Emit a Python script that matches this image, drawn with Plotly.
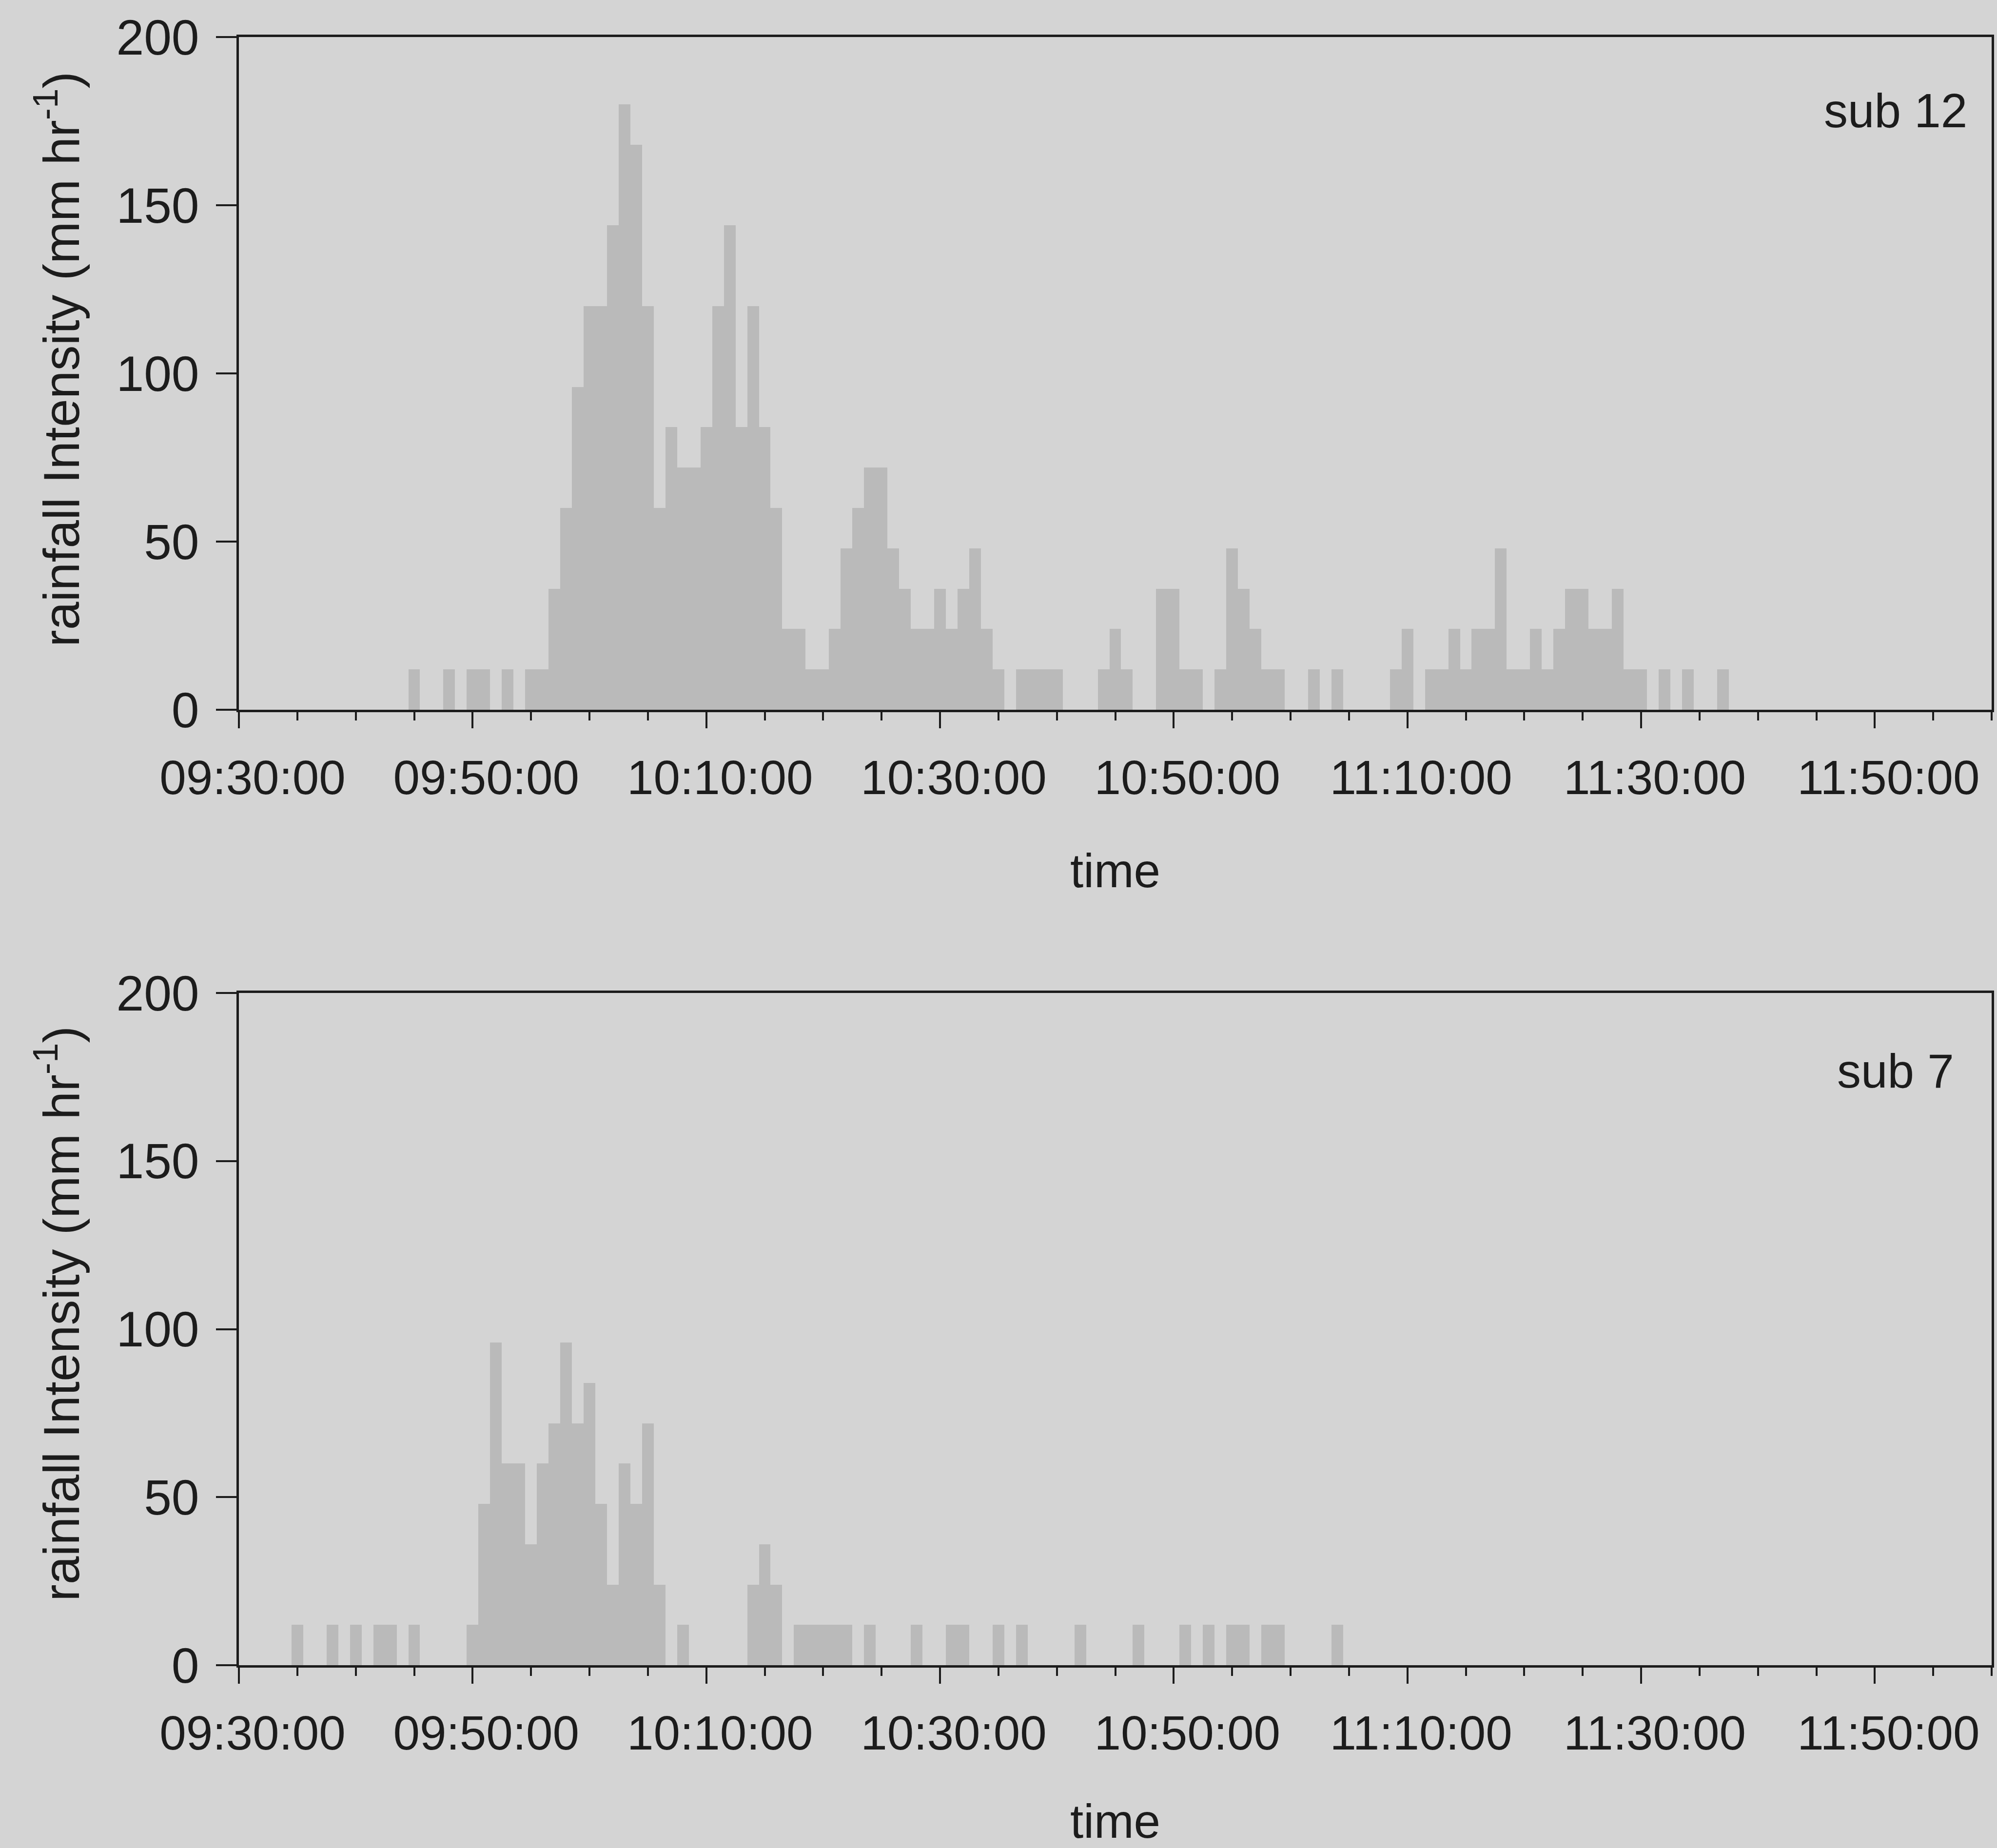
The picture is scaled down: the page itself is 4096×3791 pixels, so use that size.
import plotly.graph_objects as go

# ---------------- data (1-minute bins, non-zero bins only) ----------------
sub12_times = ["09:45", "09:48", "09:50", "09:51", "09:53", "09:55", "09:56", "09:57", "09:58", "09:59",
               "10:00", "10:01", "10:02", "10:03", "10:04", "10:05", "10:06", "10:07", "10:08", "10:09",
               "10:10", "10:11", "10:12", "10:13", "10:14", "10:15", "10:16", "10:17", "10:18", "10:19",
               "10:20", "10:21", "10:22", "10:23", "10:24", "10:25", "10:26", "10:27", "10:28", "10:29",
               "10:30", "10:31", "10:32", "10:33", "10:34", "10:35", "10:37", "10:38", "10:39", "10:40",
               "10:44", "10:45", "10:46", "10:49", "10:50", "10:51", "10:52", "10:54", "10:55", "10:56",
               "10:57", "10:58", "10:59", "11:02", "11:04", "11:09", "11:10", "11:12", "11:13", "11:14",
               "11:15", "11:16", "11:17", "11:18", "11:19", "11:20", "11:21", "11:22", "11:23", "11:24",
               "11:25", "11:26", "11:27", "11:28", "11:29", "11:30", "11:32", "11:34", "11:37"]
sub12_intensity = [12, 12, 12, 12, 12, 12, 12, 36, 60, 96,
                   120, 120, 144, 180, 168, 120, 60, 84, 72, 72,
                   84, 120, 144, 84, 120, 84, 60, 24, 24, 12,
                   12, 24, 48, 60, 72, 72, 48, 36, 24, 24,
                   36, 24, 36, 48, 24, 12, 12, 12, 12, 12,
                   12, 24, 12, 36, 36, 12, 12, 12, 48, 36,
                   24, 12, 12, 12, 12, 12, 24, 12, 12, 24,
                   12, 24, 24, 48, 12, 12, 24, 12, 24, 36,
                   36, 24, 24, 36, 12, 12, 12, 12, 12]

sub7_times = ["09:35", "09:38", "09:40", "09:42", "09:43", "09:45", "09:50", "09:51", "09:52", "09:53",
              "09:54", "09:55", "09:56", "09:57", "09:58", "09:59", "10:00", "10:01", "10:02", "10:03",
              "10:04", "10:05", "10:06", "10:08", "10:14", "10:15", "10:16", "10:18", "10:19", "10:20",
              "10:21", "10:22", "10:24", "10:28", "10:31", "10:32", "10:35", "10:37", "10:42", "10:47",
              "10:51", "10:53", "10:55", "10:56", "10:58", "10:59", "11:04"]
sub7_intensity = [12, 12, 12, 12, 12, 12, 12, 48, 96, 60,
                  60, 36, 60, 72, 96, 72, 84, 48, 24, 60,
                  48, 72, 24, 12, 24, 36, 24, 12, 12, 12,
                  12, 12, 12, 12, 12, 12, 12, 12, 12, 12,
                  12, 12, 12, 12, 12, 12, 12]

panel_labels = ["sub 12", "sub 7"]
y_title = "rainfall Intensity (mm hr<sup>-1</sup>)"
x_title = "time"
major_ticks = ["09:30", "09:50", "10:10", "10:30", "10:50", "11:10", "11:30", "11:50"]
y_ticks = [0, 50, 100, 150, 200]

DAY = "2000-01-01 "


def ts(hm):
    return DAY + hm + ":00"


minor_ticks = []
for h in range(9, 13):
    for mm in range(0, 60, 5):
        t = "%02d:%02d" % (h, mm)
        if "09:30" <= t <= "12:00" and t not in major_ticks:
            minor_ticks.append(t)

# ---------------- style ----------------
BG = "#d4d4d4"
BAR = "#bababa"
INK = "#1c1c1c"
FONT = "Liberation Sans, Arial, sans-serif"
FS = 98
W, H = 4096, 3791

fig = go.Figure()
fig.add_trace(go.Bar(x=[ts(t) for t in sub12_times], y=sub12_intensity, width=60000,
                     marker=dict(color=BAR, line=dict(width=0)), xaxis="x", yaxis="y",
                     showlegend=False))
fig.add_trace(go.Bar(x=[ts(t) for t in sub7_times], y=sub7_intensity, width=60000,
                     marker=dict(color=BAR, line=dict(width=0)), xaxis="x2", yaxis="y2",
                     showlegend=False))

xdom = [490 / W, 4085 / W]
top_dom = [1 - 1456 / H, 1 - 76 / H]
bot_dom = [1 - 3416 / H, 1 - 2037 / H]


def xaxis_cfg(anchor):
    return dict(
        domain=xdom, anchor=anchor, type="date",
        range=[ts("09:30"), ts("12:00")],
        tickmode="array", tickvals=[ts(t) for t in major_ticks],
        ticktext=[t + ":00" for t in major_ticks],
        ticks="outside", ticklen=33, tickwidth=4, tickcolor=INK,
        minor=dict(tickmode="array", tickvals=[ts(t) for t in minor_ticks],
                   ticks="outside", ticklen=17, tickwidth=4, tickcolor=INK, showgrid=False),
        showline=True, linewidth=5, linecolor=INK, mirror=True,
        showgrid=False, zeroline=False, automargin=False,
        tickfont=dict(family=FONT, size=FS, color=INK),
        ticklabelstandoff=17, ticklabelshift=28,
        title=dict(text=x_title, font=dict(family=FONT, size=FS, color=INK), standoff=104),
    )


def yaxis_cfg(anchor, dom):
    return dict(
        domain=dom, anchor=anchor, range=[0, 200],
        tickmode="array", tickvals=y_ticks,
        ticks="outside", ticklen=42, tickwidth=4, tickcolor=INK,
        showline=True, linewidth=5, linecolor=INK, mirror=True,
        showgrid=False, zeroline=False, automargin=False,
        tickfont=dict(family=FONT, size=FS + 4, color=INK), ticklabelstandoff=14,
    )


def label(text, x_px, y_px, angle=0, size=FS):
    return dict(text=text, x=x_px / W, y=1 - y_px / H, xref="paper", yref="paper",
                xanchor="center", yanchor="middle", showarrow=False, textangle=angle,
                font=dict(family=FONT, size=size, color=INK))


fig.update_layout(
    width=W, height=H,
    margin=dict(l=0, r=0, t=0, b=0),
    paper_bgcolor=BG, plot_bgcolor=BG,
    bargap=0,
    xaxis=xaxis_cfg("y"), yaxis=yaxis_cfg("x", top_dom),
    xaxis2=xaxis_cfg("y2"), yaxis2=yaxis_cfg("x2", bot_dom),
    annotations=[
        label(panel_labels[0], 3888, 227),
        label(panel_labels[1], 3888, 2197),
        label(y_title, 118, 737, angle=-90, size=104),
        label(y_title, 118, 2695, angle=-90, size=104),
    ],
)

fig.write_html("out.html")
